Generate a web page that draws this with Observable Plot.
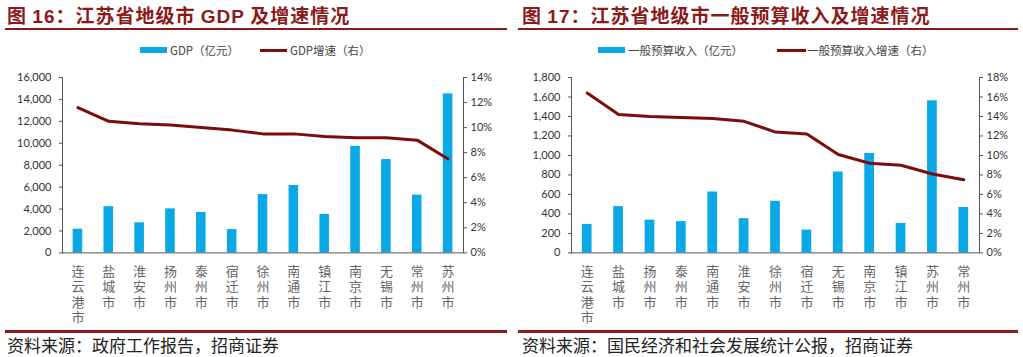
<!DOCTYPE html>
<html><head><meta charset="utf-8">
<script src="https://cdn.jsdelivr.net/npm/d3@7"></script>
<script src="https://cdn.jsdelivr.net/npm/@observablehq/plot@0.6"></script>
<style>
body{margin:0;width:1023px;height:357px;position:relative;background:#fff;overflow:hidden;font-family:"Noto Sans CJK SC",sans-serif}
.panel{position:absolute;top:0;width:510px;height:357px}
.title{position:absolute;top:4px;font-size:19px;line-height:22px;font-weight:bold;color:#8B1A1A;white-space:nowrap;letter-spacing:1px}
.title b{font-family:"Liberation Sans",Arial,sans-serif}
.rule{position:absolute;height:2.5px;background:#8B1A1A}
.legend{position:absolute;top:42px;font-size:11.5px;color:#444;white-space:nowrap;line-height:16px}
.sw{position:absolute;top:5px;height:6px}
.ln{position:absolute;top:7px;height:3px}
.src{position:absolute;top:335px;font-size:17px;color:#222;white-space:nowrap;line-height:20px}
.chart{position:absolute;top:60px;left:0}
</style></head>
<body>
<div class="panel" id="p1" style="left:0">
  <div class="title" style="left:7px">图 <b>16</b>：江苏省地级市 <b>GDP</b> 及增速情况</div>
  <div class="rule" style="top:27.5px;left:5px;width:502px"></div>
  <div class="legend" style="left:0">
    <span class="sw" style="left:140px;width:27px;background:#0BA8E6"></span>
    <span style="position:absolute;left:170px">GDP（亿元）</span>
    <span class="ln" style="left:260px;width:27px;background:#7B0D0D"></span>
    <span style="position:absolute;left:290px">GDP增速（右）</span>
  </div>
  <div class="chart" id="c1"></div>
  <div class="rule" style="top:330px;left:5px;width:502px"></div>
  <div class="src" style="left:7px">资料来源：政府工作报告，招商证券</div>
</div>
<div class="panel" id="p2" style="left:513px">
  <div class="title" style="left:9px">图 <b>17</b>：江苏省地级市一般预算收入及增速情况</div>
  <div class="rule" style="top:27.5px;left:5px;width:500px"></div>
  <div class="legend" style="left:0">
    <span class="sw" style="left:85px;width:27px;background:#0BA8E6"></span>
    <span style="position:absolute;left:115px">一般预算收入（亿元）</span>
    <span class="ln" style="left:264px;width:29px;background:#7B0D0D"></span>
    <span style="position:absolute;left:294px">一般预算收入增速（右）</span>
  </div>
  <div class="chart" id="c2"></div>
  <div class="rule" style="top:330px;left:5px;width:500px"></div>
  <div class="src" style="left:9px">资料来源：国民经济和社会发展统计公报，招商证券</div>
</div>
<script>
// ---- Figure 16 data ----
const gdpCities = ["连云港市","盐城市","淮安市","扬州市","泰州市","宿迁市","徐州市","南通市","镇江市","南京市","无锡市","常州市","苏州市"];
const gdpValues = [2160, 4212, 2745, 4016, 3688, 2126, 5320, 6148, 3502, 9721, 8518, 5273, 14504];
const gdpGrowth = [11.6, 10.5, 10.3, 10.2, 10.0, 9.8, 9.5, 9.5, 9.3, 9.2, 9.2, 9.0, 7.5];
const gdpLeftTicks = [0, 2000, 4000, 6000, 8000, 10000, 12000, 14000, 16000];
const gdpRightTicks = [0, 2, 4, 6, 8, 10, 12, 14];

// ---- Figure 17 data ----
const revCities = ["连云港市","盐城市","扬州市","泰州市","南通市","淮安市","徐州市","宿迁市","无锡市","南京市","镇江市","苏州市","常州市"];
const revValues = [292, 475, 336, 321, 625, 351, 530, 234, 830, 1020, 302, 1561, 466];
const revGrowth = [16.4, 14.2, 14.0, 13.9, 13.8, 13.5, 12.4, 12.2, 10.1, 9.2, 9.0, 8.1, 7.5];
const revLeftTicks = [0, 200, 400, 600, 800, 1000, 1200, 1400, 1600, 1800];
const revRightTicks = [0, 2, 4, 6, 8, 10, 12, 14, 16, 18];

function makeChart({cities, values, growth, leftTicks, rightTicks, width, mL, mR}) {
  const yMax = leftTicks[leftTicks.length - 1];
  const rMax = rightTicks[rightTicks.length - 1];
  const k = yMax / rMax;
  const rows = cities.map((c, i) => ({city: c, v: values[i], g: growth[i] * k}));
  const axisColor = "#555";
  const labelStyle = {fontSize: 13, fill: "#666", fontFamily: "Noto Sans CJK SC, sans-serif"};
  // city names stacked vertically, one character per row
  const labelMarks = [0, 1, 2, 3].map(j => Plot.text(cities.filter(c => c.length > j), {
    x: d => d, y: () => 0, text: d => [...d][j], dy: 19 + 15.3 * j, ...labelStyle}));
  return Plot.plot({
    width, height: 270,
    marginTop: 17, marginBottom: 77.6, marginLeft: mL, marginRight: mR,
    style: {fontFamily: "Lato, sans-serif", fontSize: "11px", color: "#333", background: "transparent"},
    x: {domain: cities, paddingInner: 0.69, paddingOuter: 0.345, round: false, axis: null},
    y: {domain: [0, yMax], axis: null},
    marks: [
      Plot.barY(rows, {x: "city", y: "v", fill: "#0BA8E6"}),
      Plot.ruleY([0], {stroke: axisColor, strokeWidth: 1}),
      Plot.axisY(leftTicks, {anchor: "left", label: null, tickFormat: d3.format(","), tickSize: 3, tickPadding: 8, stroke: axisColor, fill: "#333", fontSize: 11}),
      Plot.axisY(rightTicks.map(t => t * k), {anchor: "right", label: null, tickFormat: d => Math.round(d / k) + "%", tickSize: 3, tickPadding: 4, stroke: axisColor, fill: "#333", fontSize: 11}),
      Plot.frame({anchor: "left", stroke: axisColor}),
      Plot.frame({anchor: "right", stroke: axisColor}),
      Plot.line(rows, {x: "city", y: "g", stroke: "#7B0D0D", strokeWidth: 3, curve: "linear"}),
      ...labelMarks
    ]
  });
}

document.getElementById("c1").append(makeChart({cities: gdpCities, values: gdpValues, growth: gdpGrowth, leftTicks: gdpLeftTicks, rightTicks: gdpRightTicks, width: 510, mL: 62, mR: 47}));
document.getElementById("c2").append(makeChart({cities: revCities, values: revValues, growth: revGrowth, leftTicks: revLeftTicks, rightTicks: revRightTicks, width: 510, mL: 58, mR: 44}));
</script>
</body></html>
